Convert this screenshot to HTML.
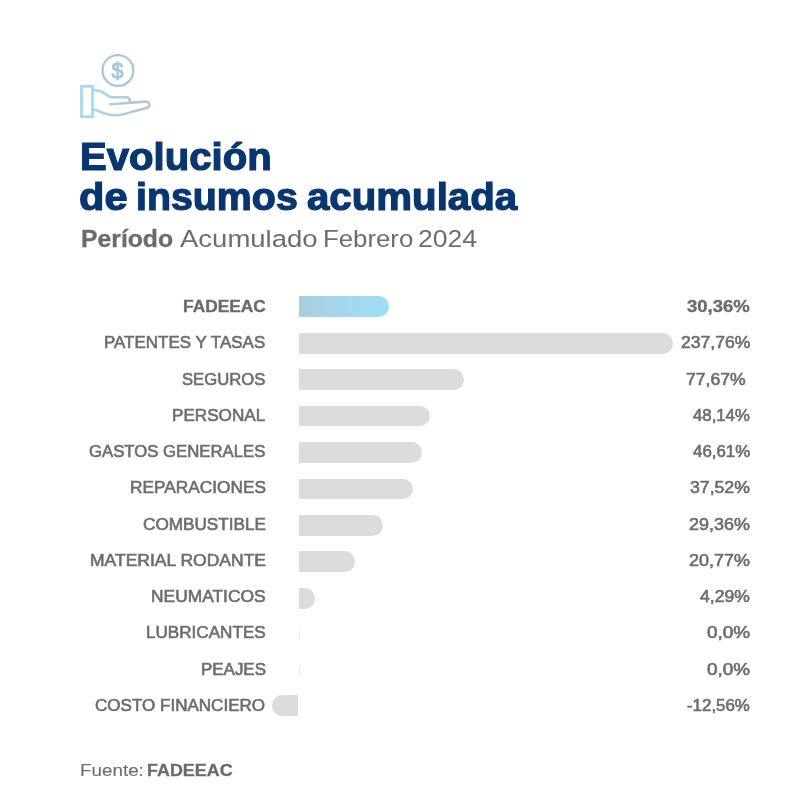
<!DOCTYPE html>
    <html lang="es">
    <head>
    <meta charset="utf-8">
    <title>Evolución de insumos acumulada</title>
    <style>
    html,body{margin:0;padding:0;}
    body{width:800px;height:800px;background:#fff;position:relative;overflow:hidden;font-family:"Liberation Sans", sans-serif;}
    .card{position:absolute;left:0;top:0;width:800px;height:800px;will-change:transform;}
    .tx{position:absolute;white-space:nowrap;line-height:1;transform-origin:0 0;margin:0;padding:0;display:block;}
    h1,p{margin:0;padding:0;font-weight:normal;font-size:0;}
    .bar{position:absolute;display:block;height:20.8px;background:#dcdcdc;border-radius:0 10.5px 10.5px 0;}
    .bar.hl{background:linear-gradient(90deg,#aacddd 0%,#a3d9f0 60%,#9fdcf6 100%);}
    .bar.neg{border-radius:10.5px 0 0 10.5px;}
    .bar.zero{border-radius:0 1px 1px 0;background:#e9e9e9;}
    .icon{position:absolute;left:70px;top:45px;width:90px;height:80px;overflow:visible;}
    </style>
    </head>
    <body>
    <div class="card">
    <svg class="icon" viewBox="70 45 90 80" fill="none" stroke-linecap="round" stroke-linejoin="round">
<defs><linearGradient id="hg" x1="93" y1="0" x2="150" y2="0" gradientUnits="userSpaceOnUse"><stop offset="0" stop-color="#a4d9f2"/><stop offset="0.3" stop-color="#aed1e1"/><stop offset="0.6" stop-color="#b4c9d5"/><stop offset="1" stop-color="#bac5cb"/></linearGradient></defs>
<circle cx="117.9" cy="70.45" r="15.4" stroke="#a9c8d9" stroke-width="2.3"/>
<text x="117.5" y="77.9" text-anchor="middle" font-family="Liberation Sans, sans-serif" font-size="21.5" fill="#a7c6d8" stroke="#a7c6d8" stroke-width="0.9">$</text>
<rect x="81.5" y="86.3" width="11" height="30.4" stroke="#a2d9f3" stroke-width="2.7" stroke-linejoin="miter"/>
<path d="M94 90 C99 90.3 102.5 91.5 105.5 94 C108 96 109.5 97.2 112 97.2 L126 97.2 C128.6 97.2 129.8 99 129.8 101.8" stroke="url(#hg)" stroke-width="2.6"/>
<path d="M110.3 104.3 L145 101.6 C149.5 101.3 151 106.2 147 107.7 C143 109 139 110 135 111 C130 112.4 126 113.8 122 114.6 C117 115.5 112 115.2 108 114.4 C103 113.3 98.5 111 94 109.6" stroke="url(#hg)" stroke-width="2.6"/>
</svg>

    <h1><span class="tx t1" style="left:79.55px;top:137.92px;font-size:38.1px;font-weight:700;color:#0a3670;-webkit-text-stroke:1.2px #0a3670;transform:scaleX(1.0532)">Evolución</span> <span class="tx t2" style="left:79.16px;top:178.02px;font-size:38.1px;font-weight:700;color:#0a3670;-webkit-text-stroke:1.2px #0a3670;transform:scaleX(1.0912)">de</span> <span class="tx t2" style="left:136.33px;top:178.02px;font-size:38.1px;font-weight:700;color:#0a3670;-webkit-text-stroke:1.2px #0a3670;transform:scaleX(1.0332)">insumos</span> <span class="tx t2" style="left:306.97px;top:178.02px;font-size:38.1px;font-weight:700;color:#0a3670;-webkit-text-stroke:1.2px #0a3670;transform:scaleX(1.0565)">acumulada</span></h1>
    <p class="sub"><span class="tx s1" style="left:81.47px;top:227.31px;font-size:24.1px;font-weight:700;color:#6b6b6b;-webkit-text-stroke:0.3px #6b6b6b;transform:scaleX(1.0268)">Período</span> <span class="tx s2" style="left:179.90px;top:227.42px;font-size:24.1px;font-weight:400;color:#6d6d6d;-webkit-text-stroke:0.0px #6d6d6d;transform:scaleX(1.1414)">Acumulado</span> <span class="tx s2" style="left:322.90px;top:227.42px;font-size:24.1px;font-weight:400;color:#6d6d6d;-webkit-text-stroke:0.0px #6d6d6d;transform:scaleX(1.0694)">Febrero</span> <span class="tx s2" style="left:417.94px;top:227.42px;font-size:24.1px;font-weight:400;color:#6d6d6d;-webkit-text-stroke:0.0px #6d6d6d;transform:scaleX(1.1026)">2024</span></p>
    <div class="chart">
    <div class="row"><span class="tx lbl" style="left:182.85px;top:298.04px;font-size:16.3px;font-weight:700;color:#6b6b6b;-webkit-text-stroke:0.35px #6b6b6b;transform:scaleX(1.0655)">FADEEAC</span><span class="bar hl" style="left:299.3px;top:296.30px;width:90.00px"></span><span class="tx val" style="left:687.00px;top:298.04px;font-size:16.3px;font-weight:700;color:#6b6b6b;-webkit-text-stroke:0.35px #6b6b6b;transform:scaleX(1.1363)">30,36%</span></div>
<div class="row"><span class="tx lbl" style="left:104.46px;top:334.29px;font-size:16.3px;font-weight:400;color:#6d6d6d;-webkit-text-stroke:0.6px #6d6d6d;transform:scaleX(1.0421)">PATENTES Y TASAS</span><span class="bar" style="left:299.3px;top:332.75px;width:373.70px"></span><span class="tx val" style="left:680.94px;top:334.29px;font-size:16.3px;font-weight:400;color:#6d6d6d;-webkit-text-stroke:0.6px #6d6d6d;transform:scaleX(1.0804)">237,76%</span></div>
<div class="row"><span class="tx lbl" style="left:182.39px;top:370.54px;font-size:16.3px;font-weight:400;color:#6d6d6d;-webkit-text-stroke:0.6px #6d6d6d;transform:scaleX(1.0224)">SEGUROS</span><span class="bar" style="left:299.3px;top:369.20px;width:165.20px"></span><span class="tx val" style="left:686.41px;top:370.54px;font-size:16.3px;font-weight:400;color:#6d6d6d;-webkit-text-stroke:0.6px #6d6d6d;transform:scaleX(1.0821)">77,67%</span></div>
<div class="row"><span class="tx lbl" style="left:172.35px;top:406.79px;font-size:16.3px;font-weight:400;color:#6d6d6d;-webkit-text-stroke:0.6px #6d6d6d;transform:scaleX(1.0510)">PERSONAL</span><span class="bar" style="left:299.3px;top:405.65px;width:131.20px"></span><span class="tx val" style="left:693.10px;top:406.79px;font-size:16.3px;font-weight:400;color:#6d6d6d;-webkit-text-stroke:0.6px #6d6d6d;transform:scaleX(1.0291)">48,14%</span></div>
<div class="row"><span class="tx lbl" style="left:89.24px;top:443.04px;font-size:16.3px;font-weight:400;color:#6d6d6d;-webkit-text-stroke:0.6px #6d6d6d;transform:scaleX(1.0275)">GASTOS GENERALES</span><span class="bar" style="left:299.3px;top:442.10px;width:123.00px"></span><span class="tx val" style="left:692.70px;top:443.04px;font-size:16.3px;font-weight:400;color:#6d6d6d;-webkit-text-stroke:0.6px #6d6d6d;transform:scaleX(1.0364)">46,61%</span></div>
<div class="row"><span class="tx lbl" style="left:129.52px;top:479.29px;font-size:16.3px;font-weight:400;color:#6d6d6d;-webkit-text-stroke:0.6px #6d6d6d;transform:scaleX(1.0609)">REPARACIONES</span><span class="bar" style="left:299.3px;top:478.55px;width:113.60px"></span><span class="tx val" style="left:690.06px;top:479.29px;font-size:16.3px;font-weight:400;color:#6d6d6d;-webkit-text-stroke:0.6px #6d6d6d;transform:scaleX(1.0840)">37,52%</span></div>
<div class="row"><span class="tx lbl" style="left:142.76px;top:515.54px;font-size:16.3px;font-weight:400;color:#6d6d6d;-webkit-text-stroke:0.6px #6d6d6d;transform:scaleX(1.0529)">COMBUSTIBLE</span><span class="bar" style="left:299.3px;top:515.00px;width:84.20px"></span><span class="tx val" style="left:689.34px;top:515.54px;font-size:16.3px;font-weight:400;color:#6d6d6d;-webkit-text-stroke:0.6px #6d6d6d;transform:scaleX(1.1034)">29,36%</span></div>
<div class="row"><span class="tx lbl" style="left:89.56px;top:551.79px;font-size:16.3px;font-weight:400;color:#6d6d6d;-webkit-text-stroke:0.6px #6d6d6d;transform:scaleX(1.0749)">MATERIAL RODANTE</span><span class="bar" style="left:299.3px;top:551.45px;width:56.10px"></span><span class="tx val" style="left:689.05px;top:551.79px;font-size:16.3px;font-weight:400;color:#6d6d6d;-webkit-text-stroke:0.6px #6d6d6d;transform:scaleX(1.1028)">20,77%</span></div>
<div class="row"><span class="tx lbl" style="left:151.44px;top:588.04px;font-size:16.3px;font-weight:400;color:#6d6d6d;-webkit-text-stroke:0.6px #6d6d6d;transform:scaleX(1.0671)">NEUMATICOS</span><span class="bar" style="left:299.3px;top:587.90px;width:15.70px"></span><span class="tx val" style="left:700.00px;top:588.04px;font-size:16.3px;font-weight:400;color:#6d6d6d;-webkit-text-stroke:0.6px #6d6d6d;transform:scaleX(1.0804)">4,29%</span></div>
<div class="row"><span class="tx lbl" style="left:145.61px;top:624.29px;font-size:16.3px;font-weight:400;color:#6d6d6d;-webkit-text-stroke:0.6px #6d6d6d;transform:scaleX(1.0503)">LUBRICANTES</span><span class="bar zero" style="left:299.3px;top:629.60px;width:1.2px;height:10.8px"></span><span class="tx val" style="left:706.82px;top:624.29px;font-size:16.3px;font-weight:400;color:#6d6d6d;-webkit-text-stroke:0.6px #6d6d6d;transform:scaleX(1.1602)">0,0%</span></div>
<div class="row"><span class="tx lbl" style="left:200.69px;top:660.54px;font-size:16.3px;font-weight:400;color:#6d6d6d;-webkit-text-stroke:0.6px #6d6d6d;transform:scaleX(1.0400)">PEAJES</span><span class="bar zero" style="left:299.3px;top:665.60px;width:1.2px;height:10.8px"></span><span class="tx val" style="left:706.83px;top:660.54px;font-size:16.3px;font-weight:400;color:#6d6d6d;-webkit-text-stroke:0.6px #6d6d6d;transform:scaleX(1.1602)">0,0%</span></div>
<div class="row"><span class="tx lbl" style="left:95.22px;top:696.79px;font-size:16.3px;font-weight:400;color:#6d6d6d;-webkit-text-stroke:0.6px #6d6d6d;transform:scaleX(1.0463)">COSTO FINANCIERO</span><span class="bar neg" style="left:272px;top:694.80px;width:25.80px"></span><span class="tx val" style="left:686.98px;top:696.79px;font-size:16.3px;font-weight:400;color:#6d6d6d;-webkit-text-stroke:0.6px #6d6d6d;transform:scaleX(1.0367)">-12,56%</span></div>
</div>
    <p class="src"><span class="tx f1" style="left:79.61px;top:761.98px;font-size:17.2px;font-weight:400;color:#6d6d6d;-webkit-text-stroke:0.1px #6d6d6d;transform:scaleX(1.0952)">Fuente:</span> <span class="tx f2" style="left:146.71px;top:761.98px;font-size:17.2px;font-weight:700;color:#6b6b6b;-webkit-text-stroke:0.3px #6b6b6b;transform:scaleX(1.0421)">FADEEAC</span></p>
    </div>
    </body>
    </html>
